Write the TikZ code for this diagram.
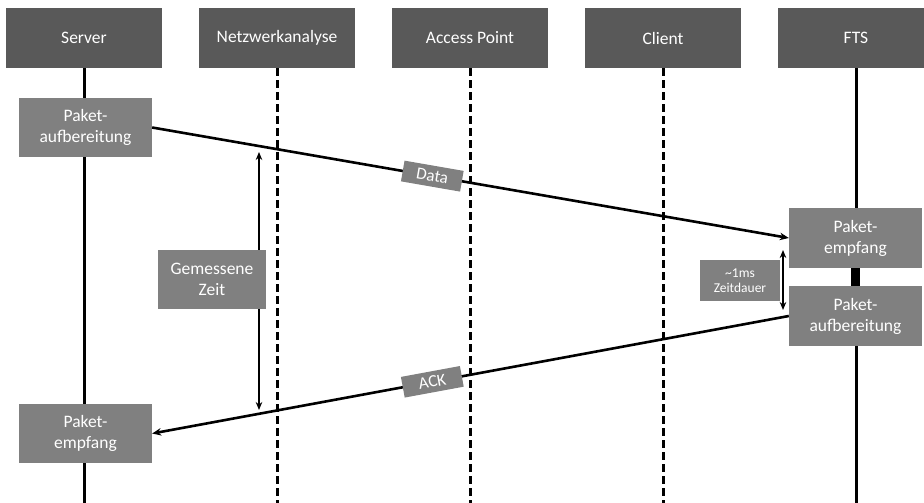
\documentclass[tikz,border=0pt]{standalone}
\usepackage{fontspec}
\setmainfont{Carlito}
\usetikzlibrary{arrows.meta, positioning}
\definecolor{headgray}{HTML}{595959}
\definecolor{boxgray}{HTML}{808080}

\begin{document}
\begin{tikzpicture}[
    x=1pt, y=-1pt,
    head/.style={rectangle, fill=headgray, text=white, minimum width=156pt, minimum height=60pt, font=\fontsize{17.5}{20}\selectfont},
    box/.style={rectangle, fill=boxgray, text=white, minimum width=133pt, minimum height=59pt, align=center, font=\fontsize{17.5}{21}\selectfont},
    tag/.style={rectangle, fill=boxgray, text=white, minimum width=60pt, minimum height=21pt, inner sep=2pt, font=\fontsize{17}{18}\selectfont},
    life/.style={line width=3pt},
    dashlife/.style={line width=3pt, dash pattern=on 8pt off 4pt},
    arrow/.style={-{Stealth[length=9pt,width=7.5pt]}, line width=2.6pt},
    dblarrow/.style={{Stealth[length=8pt,width=6.5pt]}-{Stealth[length=8pt,width=6.5pt]}, line width=2.2pt}
]
\useasboundingbox (0,0) rectangle (924,503);

% Headers
\node[head] (server) at (84,38) {Server};
\node[head] (analyse) at (277,38) {Netzwerkanalyse};
\node[head] (ap) at (470,38) {Access Point};
\node[head] (client) at (663,38) {Client};
\node[head] (fts) at (856,38) {FTS};

\coordinate (bottom) at (0,503);
\coordinate (mtop) at (259,152);
\coordinate (mbot) at (259,410);
\coordinate (ztop) at (783,250);
\coordinate (zbot) at (783,310);

% Lifelines
\draw[life] (server.south) -- (server.south |- bottom);
\draw[dashlife] (analyse.south) -- (analyse.south |- bottom);
\draw[dashlife] (ap.south) -- (ap.south |- bottom);
\draw[dashlife] (client.south) -- (client.south |- bottom);
\draw[life] (fts.south) -- (fts.south |- bottom);

% Durations
\draw[dblarrow] (mtop) -- (mbot);
\draw[dblarrow] (ztop) -- (zbot);

% Boxes
\node[box] (prepsrv) at (85.5,127.5) {Paket-\\aufbereitung};
\node[box] (rcvsrv) at (85.5,433.5) {Paket-\\empfang};
\node[box, minimum height=60pt] (rcvfts) at (855.5,238) {Paket-\\empfang};
\node[box, minimum height=60pt] (prepfts) at (855.5,316) {Paket-\\aufbereitung};
\node[box, minimum width=108pt] (measured) at (212,279.5) {Gemessene\\Zeit};
\node[box, minimum width=80pt, minimum height=41pt, font=\fontsize{13.5}{15}\selectfont] (duration) at (740,280.5) {\textasciitilde1ms\\Zeitdauer};

\draw[line width=9pt] (rcvfts.south) -- (prepfts.north);

% Arrows
\draw[arrow] (prepsrv.east) -- node[tag, sloped, pos=0.44] {Data} (rcvfts.west);
\draw[arrow] (prepfts.west) -- node[tag, sloped, pos=0.56] {ACK} (rcvsrv.east);

\end{tikzpicture}
\end{document}
